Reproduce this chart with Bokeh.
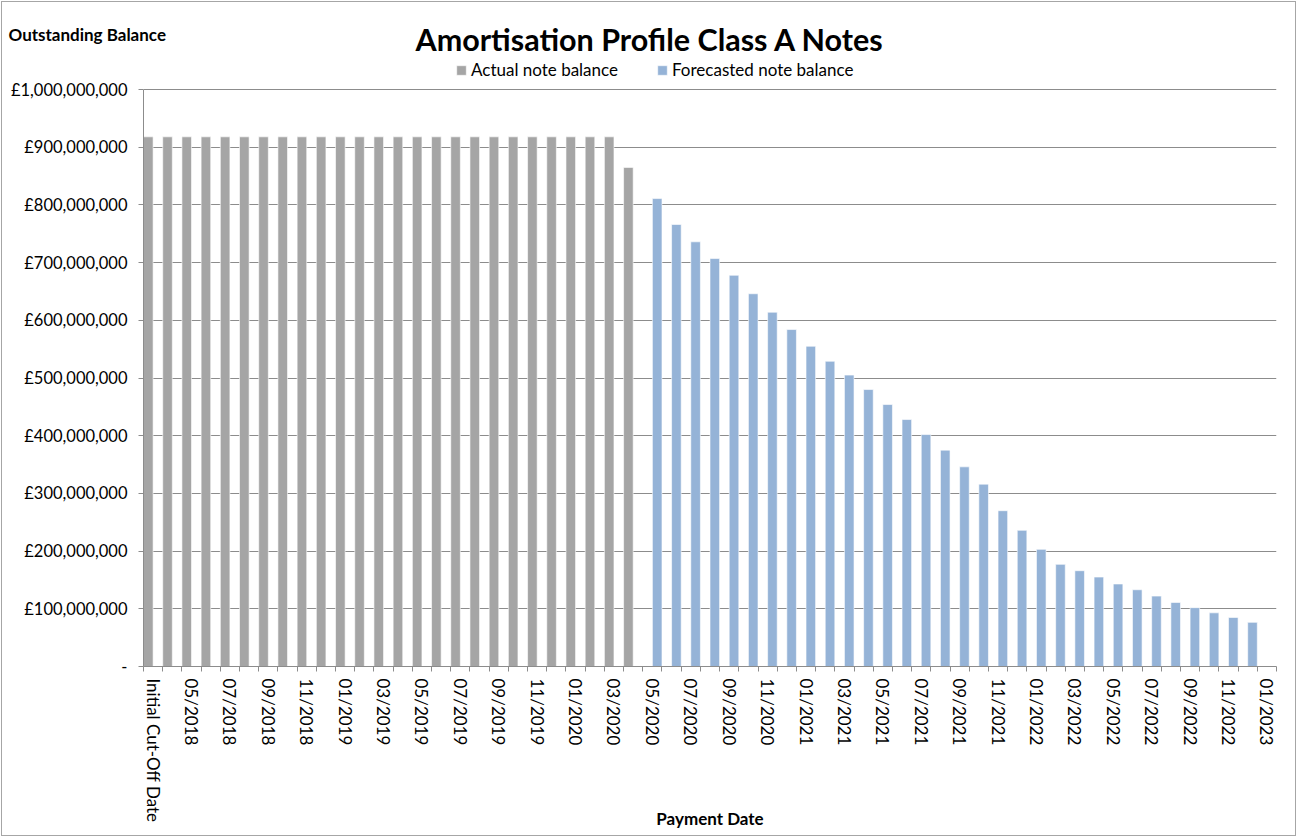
import numpy as np
from bokeh.plotting import figure
from bokeh.models import (FixedTicker, Legend, LegendItem, ColumnDataSource, Range1d, Title)
from bokeh.embed import file_html
from bokeh.resources import INLINE

# ---------------- data ----------------
categories = [
    "Initial Cut-Off Date",
    "04/2018", "05/2018", "06/2018", "07/2018", "08/2018", "09/2018", "10/2018", "11/2018", "12/2018",
    "01/2019", "02/2019", "03/2019", "04/2019", "05/2019", "06/2019", "07/2019", "08/2019", "09/2019",
    "10/2019", "11/2019", "12/2019",
    "01/2020", "02/2020", "03/2020", "04/2020", "05/2020", "06/2020", "07/2020", "08/2020", "09/2020",
    "10/2020", "11/2020", "12/2020",
    "01/2021", "02/2021", "03/2021", "04/2021", "05/2021", "06/2021", "07/2021", "08/2021", "09/2021",
    "10/2021", "11/2021", "12/2021",
    "01/2022", "02/2022", "03/2022", "04/2022", "05/2022", "06/2022", "07/2022", "08/2022", "09/2022",
    "10/2022", "11/2022", "12/2022",
    "01/2023",
]

actual_dates = categories[:26]
actual_values = [
    918e6, 918e6, 918e6, 918e6, 918e6, 918e6, 918e6, 918e6, 918e6, 918e6,
    918e6, 918e6, 918e6, 918e6, 918e6, 918e6, 918e6, 918e6, 918e6, 918e6,
    918e6, 918e6, 918e6, 918e6, 918e6, 865e6,
]

forecast_dates = categories[26:58]
forecast_values = [
    811e6, 766e6, 736e6, 707e6, 678e6, 646e6, 614e6, 584e6,
    555e6, 529e6, 505e6, 480e6, 454e6, 428e6, 402e6, 375e6,
    346e6, 316e6, 270e6, 236e6, 203e6, 177e6, 166e6, 155e6,
    143e6, 133e6, 122e6, 111e6, 102e6, 93e6, 85e6, 76.5e6,
]

y_ticks = [0, 100e6, 200e6, 300e6, 400e6, 500e6, 600e6, 700e6, 800e6, 900e6, 1000e6]
y_tick_labels = ["-", "£100,000,000", "£200,000,000", "£300,000,000", "£400,000,000",
                 "£500,000,000", "£600,000,000", "£700,000,000", "£800,000,000",
                 "£900,000,000", "£1,000,000,000"]
y_max = 1000e6

title_text = "Amortisation Profile Class A Notes"
y_title = "Outstanding Balance"
x_title = "Payment Date"

# ---------------- styling / layout ----------------
FONT = "Lato"
GRAY = "#A5A5A5"
BLUE = "#95B3D7"
GRID = "#8C8C8C"

PLOT_H = 577      # pixel height of the 0..y_max value area
LEG_H = 46        # band inside the frame, above y_max, holding the legend

idx = {c: i for i, c in enumerate(categories)}
src_a = ColumnDataSource(dict(x=[idx[d] - 0.25 for d in actual_dates], top=actual_values))
src_f = ColumnDataSource(dict(x=[idx[d] + 0.25 for d in forecast_dates], top=forecast_values))

n = len(categories)
p = figure(width=1295, height=835, output_backend="svg", toolbar_location=None,
           x_range=Range1d(-0.5, n - 0.5),
           y_range=Range1d(0, y_max * (PLOT_H + LEG_H) / PLOT_H),
           min_border_left=141, min_border_right=21, min_border_top=0, min_border_bottom=171,
           outline_line_color=None, background_fill_color="white", border_fill_color="white",
           styles={"border": "1px solid #A6A6A6", "margin-left": "1px", "margin-top": "1px"})

r_a = p.vbar(x="x", top="top", width=0.5, source=src_a, fill_color=GRAY, line_color="white",
             line_width=0.6)
r_f = p.vbar(x="x", top="top", width=0.5, source=src_f, fill_color=BLUE, line_color="white",
             line_width=0.6)

# x axis
label_pos = list(range(0, n, 2))
boundaries = [i - 0.5 for i in range(n + 1)]
p.xaxis.ticker = FixedTicker(ticks=label_pos, minor_ticks=boundaries)
p.xaxis.major_label_overrides = {i: categories[i] for i in label_pos}
p.xaxis.major_label_orientation = "vertical"
p.xaxis.major_tick_line_color = None
p.xaxis.major_tick_out = 0
p.xaxis.major_tick_in = 0
p.xaxis.minor_tick_line_color = GRID
p.xaxis.minor_tick_out = 5
p.xaxis.minor_tick_in = 0
p.xaxis.axis_line_color = GRID
p.xaxis.major_label_standoff = 7
p.xaxis.major_label_text_font = FONT
p.xaxis.major_label_text_font_size = "17px"
p.xaxis.major_label_text_color = "black"
p.xaxis.axis_label = x_title
p.xaxis.axis_label_text_font = FONT
p.xaxis.axis_label_text_font_style = "bold"
p.xaxis.axis_label_text_font_size = "17px"
p.xaxis.axis_label_text_color = "black"
p.xaxis.axis_label_standoff = -17
p.xgrid.grid_line_color = None

# y axis
p.yaxis.ticker = FixedTicker(ticks=y_ticks)
p.yaxis.bounds = (0, y_max)
p.yaxis.major_label_overrides = {t: l for t, l in zip(y_ticks, y_tick_labels)}
p.yaxis.axis_line_color = GRID
p.yaxis.major_tick_line_color = GRID
p.yaxis.major_tick_out = 5
p.yaxis.major_tick_in = 0
p.yaxis.minor_tick_line_color = None
p.yaxis.major_label_standoff = 11
p.yaxis.major_label_text_font = FONT
p.yaxis.major_label_text_font_size = "16.5px"
p.yaxis.major_label_text_color = "black"
p.ygrid.ticker = FixedTicker(ticks=y_ticks)
p.ygrid.grid_line_color = GRID
p.ygrid.grid_line_width = 1

# legend: in the frame band above y_max
legend = Legend(items=[LegendItem(label="Actual note balance", renderers=[r_a]),
                       LegendItem(label="Forecasted note balance", renderers=[r_f])],
                orientation="horizontal", location=(312, PLOT_H + 9),
                glyph_width=12, glyph_height=12, label_height=16,
                label_standoff=4, spacing=38, padding=0, margin=0,
                border_line_color=None, background_fill_alpha=0,
                label_text_font=FONT, label_text_font_size="17px", label_text_color="black")
p.add_layout(legend, "center")

# title band (stacked from the frame upwards)
p.add_layout(Title(text=title_text, align="left", offset=272, standoff=-29,
                   vertical_align="middle",
                   text_font=FONT, text_font_style="bold", text_font_size="30.5px",
                   text_color="black"), "above")
p.add_layout(Title(text=y_title, align="left", offset=-135, standoff=-40,
                   vertical_align="middle",
                   text_font=FONT, text_font_style="bold", text_font_size="17px",
                   text_color="black"), "above")
p.add_layout(Title(text=" ", align="left", standoff=13, vertical_align="middle",
                   text_font=FONT, text_font_size="14px"), "above")

open("out.html", "w").write(file_html(p, INLINE))
